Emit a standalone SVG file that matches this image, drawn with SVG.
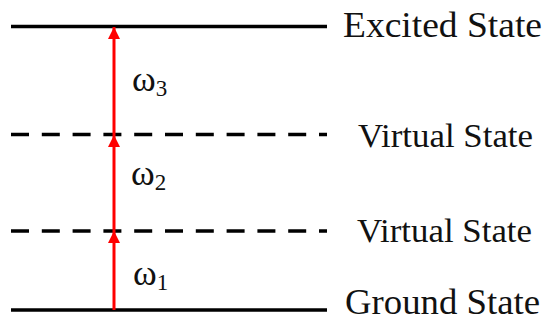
<svg xmlns="http://www.w3.org/2000/svg" width="547" height="322" viewBox="0 0 547 322">
<style>
.lvl{stroke:#000;stroke-width:3.5;fill:none}
.dash{stroke-dasharray:18 12.8}
.lbl{font-family:"Liberation Serif","Times New Roman",serif;fill:#111}
.big{font-size:36px}
.gnd{font-size:35px}
.mid{font-size:34px}
.om{font-size:36px}
.sub{font-size:23px}
.tr{stroke:#ff0000;stroke-width:3;fill:none}
</style>
<defs>
<marker id="ah" markerUnits="userSpaceOnUse" markerWidth="13" markerHeight="13" refX="12" refY="6.5" orient="auto" viewBox="0 0 13 13">
<path d="M0,0.5 L12,6.5 L0,12.5 z" fill="#ff0000"/>
</marker>
</defs>
<rect width="547" height="322" fill="#fff"/>
<g id="excited">
<line class="lvl" x1="11" y1="26.5" x2="327" y2="26.5"/>
<text class="lbl big" x="343" y="37" textLength="199" lengthAdjust="spacingAndGlyphs">Excited State</text>
</g>
<g id="virtual2">
<line class="lvl dash" x1="11" y1="134.5" x2="327" y2="134.5"/>
<text class="lbl mid" x="358" y="147" textLength="175" lengthAdjust="spacingAndGlyphs">Virtual State</text>
</g>
<g id="virtual1">
<line class="lvl dash" x1="11" y1="231" x2="327" y2="231"/>
<text class="lbl mid" x="357" y="242" textLength="175" lengthAdjust="spacingAndGlyphs">Virtual State</text>
</g>
<g id="ground">
<line class="lvl" x1="11" y1="310" x2="327" y2="310"/>
<text class="lbl gnd" x="345" y="314" textLength="195" lengthAdjust="spacingAndGlyphs">Ground State</text>
</g>
<g id="connectors">
<line class="tr" x1="114" y1="310" x2="114" y2="231" marker-end="url(#ah)"/>
<line class="tr" x1="114" y1="231" x2="114" y2="135" marker-end="url(#ah)"/>
<line class="tr" x1="114" y1="135" x2="114" y2="27" marker-end="url(#ah)"/>
</g>
<g id="labels">
<text class="lbl om" x="132" y="91">ω<tspan class="sub" dy="5">3</tspan></text>
<text class="lbl om" x="131" y="185">ω<tspan class="sub" dy="5">2</tspan></text>
<text class="lbl om" x="133" y="285">ω<tspan class="sub" dy="5">1</tspan></text>
</g>
</svg>
